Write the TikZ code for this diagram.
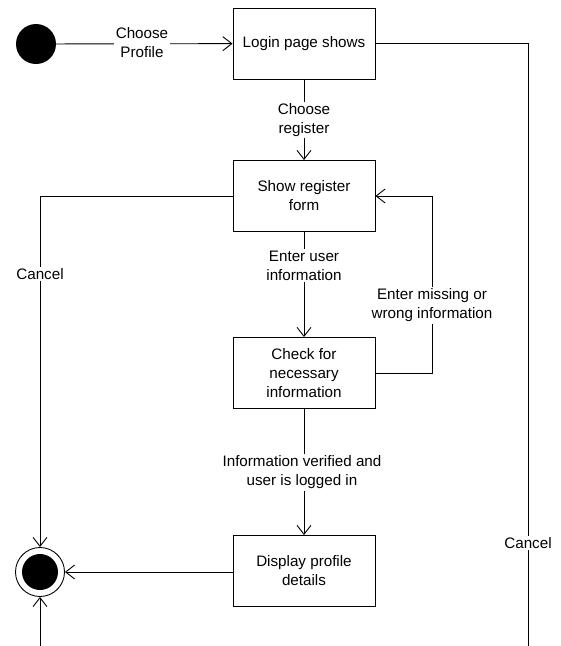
\documentclass[tikz,border=0pt]{standalone}
\usepackage{fontspec}
\setmainfont{Liberation Sans}
\usetikzlibrary{arrows.meta}
\begin{document}
\begin{tikzpicture}[x=1pt,y=-1pt,
  every node/.style={font=\fontsize{15.2}{19}\selectfont, align=center, inner sep=1pt},
  activity/.style={draw, line width=0.9pt, minimum width=142pt, minimum height=71pt},
  edgelabel/.style={fill=white, inner sep=1.5pt},
  flow/.style={line width=0.9pt, -{Straight Barb[length=9pt,width=14pt,line width=0.9pt]}},
  plain/.style={line width=0.9pt}]
  \useasboundingbox (0,0) rectangle (561,646);

  % initial and final states
  \node[circle, fill=black, minimum size=40pt, inner sep=0pt] (start) at (36,44) {};
  \node[circle, draw, line width=0.9pt, minimum size=49pt, inner sep=0pt] (final) at (40,572) {};
  \node[circle, fill=black, minimum size=36pt, inner sep=0pt] (finalcore) at (40,572) {};

  % activities
  \node[activity] (login) at (304,43.5) {Login page shows};
  \node[activity] (reg)   at (304,196)  {Show register\\form};
  \node[activity] (check) at (304,373)  {Check for\\necessary\\information};
  \node[activity] (disp)  at (304,571)  {Display profile\\details};

  % loose ends running past the lower border
  \coordinate (cancelend) at (528,646);
  \coordinate (returnin) at (40,646);

  % main flow
  \draw[flow] (start) -- (login);
  \node[edgelabel] (lchoose) at (142,43) {Choose\\Profile};
  \draw[flow] (login) -- (reg);
  \node[edgelabel] (lreg) at (304,120) {Choose\\register};
  \draw[flow] (reg) -- (check);
  \node[edgelabel] (lenter) at (304,265.5) {Enter user\\information};
  \draw[flow] (check) -- (disp);
  \node[edgelabel] (lverified) at (302,472.5) {Information verified and\\user is logged in};
  \draw[flow] (disp.west |- final) -- (final.east);

  % retry loop
  \draw[flow] (check.east) -- ++(57,0) |- (reg.east);
  \node[edgelabel] (lmissing) at (432,305.5) {Enter missing or\\wrong information};

  % cancel paths
  \draw[flow] (reg.west) -| (final.north);
  \node[edgelabel] (lcancel1) at (40,274) {Cancel};
  \draw[plain] (login.east) -| (cancelend);
  \node[edgelabel] (lcancel2) at (528,543) {Cancel};
  \draw[flow] (returnin) -- (final.south);
\end{tikzpicture}
\end{document}
